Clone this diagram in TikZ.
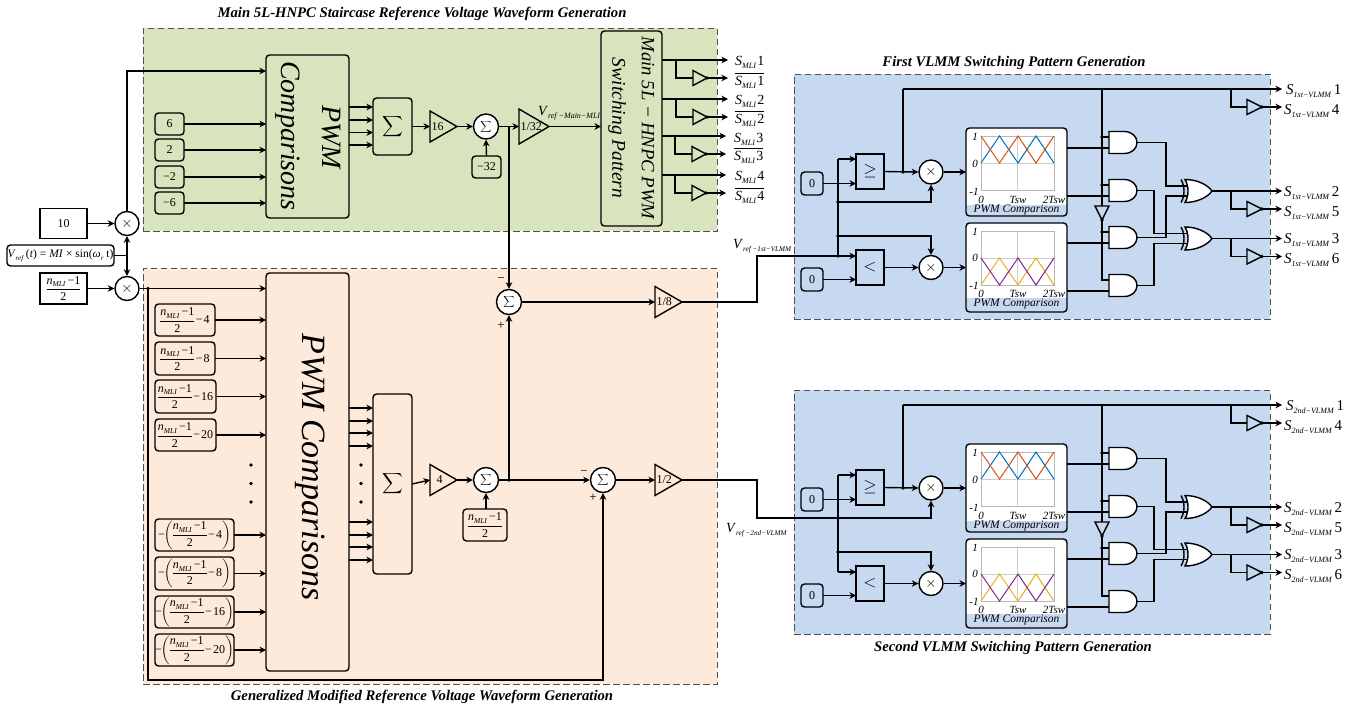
\documentclass[tikz,border=0pt]{standalone}
\usepackage{amsmath}
\usepackage{fontspec}
\setmainfont{Liberation Serif}
\usetikzlibrary{arrows.meta,calc}
\definecolor{greenbg}{HTML}{D7E4BD}
\definecolor{peachbg}{HTML}{FDEADA}
\definecolor{bluebg}{HTML}{C6D9F1}
\definecolor{dashc}{HTML}{505050}
\definecolor{wvblue}{RGB}{0,114,189}
\definecolor{wvorange}{RGB}{217,83,25}
\definecolor{wvyellow}{RGB}{237,177,32}
\definecolor{wvpurple}{RGB}{126,47,142}
\nulldelimiterspace=0pt
\newcommand\fs[1]{\fontsize{#1}{#1}\selectfont}
\newcommand\lsub[2][8.5]{\raisebox{-0.22em}{\fontsize{#1}{#1}\selectfont\textit{#2}}}
\newcommand\nfr{\ensuremath{\displaystyle\frac{\hbox{\textit{n}\lsub[7.5]{MLI}\,−1}}{\hbox{2}}}}
\newcommand\posn[1]{\nfr\kern1.5pt−\kern1pt#1}
\newcommand\negn[1]{−\kern-1pt\ensuremath{\displaystyle\left(\hbox{\nfr\kern1.5pt−\kern1pt#1}\right)}}
\newcommand\sigm{\ensuremath{\displaystyle\sum}}
\newcommand\Smli[1]{\textit{S}\lsub[8]{MLI}\kern1pt#1}
\newcommand\Sov[1]{\ensuremath{\overline{\hbox{\Smli{#1}}}}}
\newcommand\Svl[2]{\textit{S}\lsub[8]{#1−VLMM}\,#2}
% geometry helpers
\newcommand\bx[7]{%
  \pgfmathsetmacro\bxw{#5-#3}\pgfmathsetmacro\bxh{#6-#4}%
  \node[#2,minimum width=\bxw pt,minimum height=\bxh pt,inner sep=0pt,outer sep=0pt] (#1) at ({(#3+#5)/2},{(#4+#6)/2}) {#7};}
\newcommand\tri[6]{%
  \pgfmathsetmacro\bxw{#3-#2}%
  \node[inner sep=0pt,outer sep=0pt,minimum width=\bxw pt,minimum height=#5 pt,font=\fs{12}] (#1) at ({(#2+#3)/2},{#4}) {\makebox[\bxw pt][l]{\hspace{1.5pt}#6}};
  \draw[wire] (#1.north west) -- (#1.east) -- (#1.south west) -- cycle;}
\newcommand\outp[8]{%
  \coordinate (#1e) at (#6,#7);
  \draw[arr] (#2) -- (#1e);
  \coordinate (#1b) at (#3,#7);
  \tri{#1n}{#4}{#5}{#7+#8}{15}{}
  \draw[wire] (#1b) |- (#1n.west);
  \coordinate (#1f) at ({#6},{#7+#8});
  \draw[arr] (#1n.east) -- (#1f);
  \fill (#1n.east) circle (1.8pt);}
\newcommand\plotframe[3]{% top, mid, bottom
  \draw[line width=0.4pt,black!20] (1017.5,#1) -- (1017.5,#3) (981,#2) -- (1054,#2);
  \draw[line width=0.9pt,black!28] (981,#1) rectangle (1054,#3);}
\newcommand\trid[5]{%
  \pgfmathsetmacro\bxw{#3-#2}\pgfmathsetmacro\bxh{#5-#4}%
  \node[inner sep=0pt,outer sep=0pt,minimum width=\bxw pt,minimum height=\bxh pt] (#1) at ({(#2+#3)/2},{(#4+#5)/2}) {};
  \draw[wire] (#1.north west) -- (#1.south) -- (#1.north east) -- cycle;}
% AND gate: name, left x, centre y
\newcommand\andgate[3]{%
  \node[inner sep=0pt,outer sep=0pt,minimum width=28pt,minimum height=22pt] (#1) at ({#2+14},{#3}) {};
  \draw[wire,fill=white] ({#2},{#3-11}) -- ({#2+15},{#3-11}) .. controls ({#2+23},{#3-11}) and ({#2+28},{#3-6}) .. ({#2+28},{#3})
     .. controls ({#2+28},{#3+6}) and ({#2+23},{#3+11}) .. ({#2+15},{#3+11}) -- ({#2},{#3+11}) -- cycle;
  \coordinate (#1i1) at ({#2},{#3-5.5});
  \coordinate (#1i2) at ({#2},{#3+5.5});}
% XOR gate: name, left x, centre y
\newcommand\xorgate[3]{%
  \node[inner sep=0pt,outer sep=0pt,minimum width=31pt,minimum height=23pt] (#1) at ({#2+15.5},{#3}) {};
  \draw[wire,fill=white] ({#2+4},{#3-11.5}) .. controls ({#2+15},{#3-11.5}) and ({#2+26},{#3-7}) .. ({#2+31},{#3})
     .. controls ({#2+26},{#3+7}) and ({#2+15},{#3+11.5}) .. ({#2+4},{#3+11.5})
     .. controls ({#2+8},{#3+5}) and ({#2+8},{#3-5}) .. cycle;
  \draw[wire] ({#2},{#3-11.5}) .. controls ({#2+4},{#3-5}) and ({#2+4},{#3+5}) .. ({#2},{#3+11.5});
  \coordinate (#1i1) at ({#2+6.5},{#3-5});
  \coordinate (#1i2) at ({#2+6.5},{#3+5});}
\newcommand\vlmm[3]{%
\begin{scope}[shift={(0,#2)}]
  \bx{#1z1}{rbox}{801}{172}{823}{195}{0}
  \bx{#1z2}{rbox}{801}{268}{823}{291}{0}
  \bx{#1ge}{sbox,font=\fs{17}}{856}{154}{884}{189}{$\geq$}
  \bx{#1lt}{sbox,font=\fs{17}}{856}{250}{884}{285}{$<$}
  \node[mul] (#1m1) at (931,172) {$\times$};
  \node[mul] (#1m2) at (931,267.5) {$\times$};
  % PWM comparison 1
  \bx{#1p1}{rbox,draw=none,fill=white}{966}{128}{1067}{216}{}
  \fill[bluebg] (966,205) rectangle (1067,216);
  \plotframe{136}{163}{190}
  \draw[line width=1pt,wvblue] (981,163) -- (999.5,136) -- (1018,163) -- (1036,136) -- (1054,163);
  \draw[line width=1pt,wvorange] (981,136) -- (999.5,163) -- (1018,136) -- (1036,163) -- (1054,136);
  \draw[rline] (#1p1.south west) rectangle (#1p1.north east);
  \node[tickl] (#1a1t) at (975,137) {1};
  \node[tickl] (#1a0t) at (975,164) {0};
  \node[tickl] (#1amt) at (974,192) {-1};
  \node[tickl] (#1ax0) at (981,199.5) {0};
  \node[tickl] (#1ax1) at (1018,199.5) {Tsw};
  \node[tickl] (#1ax2) at (1054,199.5) {2Tsw};
  \node[capt] (#1c1) at (1016.5,209.5) {PWM Comparison};
  % PWM comparison 2
  \bx{#1p2}{rbox,draw=none,fill=white}{966}{223}{1067}{312}{}
  \fill[bluebg] (966,298) rectangle (1067,312);
  \plotframe{231}{258}{285}
  \draw[line width=1pt,wvyellow] (981,285) -- (999.5,258) -- (1018,285) -- (1036,258) -- (1054,285);
  \draw[line width=1pt,wvpurple] (981,258) -- (999.5,285) -- (1018,258) -- (1036,285) -- (1054,258);
  \draw[rline] (#1p2.south west) rectangle (#1p2.north east);
  \node[tickl] (#1b1t) at (975,232) {1};
  \node[tickl] (#1b0t) at (975,258) {0};
  \node[tickl] (#1bmt) at (974,286) {-1};
  \node[tickl] (#1bx0) at (981,294) {0};
  \node[tickl] (#1bx1) at (1018,294) {Tsw};
  \node[tickl] (#1bx2) at (1054,294) {2Tsw};
  \node[capt] (#1c2) at (1016.5,304) {PWM Comparison};
  % input network
  \coordinate (#1ja) at (838,159);
  \coordinate (#1jb) at (838,202);
  \coordinate (#1jc) at (838,236);
  \coordinate (#1in) at (838,256);
  \coordinate (#1jd) at (903,172);
  \coordinate (#1tp) at (903,89);
  \coordinate (#1v) at (1102,89);
  \draw[wire] (#1ja) -- (#1in);
  \draw[arr] (#1ja) -- (#1ja -| #1ge.west);
  \draw[arr] (#1in) -- (#1in -| #1lt.west);
  \draw[arr] (#1z1.east) -- (#1z1.east -| #1ge.west);
  \draw[arr] (#1z2.east) -- (#1z2.east -| #1lt.west);
  \draw[arr] (#1ge.east) -- (#1m1.west);
  \draw[arr] (#1lt.east) -- (#1m2.west);
  \draw[arr] (#1jb) -| (#1m1.south);
  \draw[arr] (#1jc) -| (#1m2.north);
  \draw[arr] (#1m1.east) -- (#1p1.west);
  \draw[arr] (#1m2.east) -- (#1p2.west);
  \draw[wire] (#1jd) -- (#1tp);
  \foreach \q in {#1jb,#1jc,#1jd} {\fill (\q) circle (1.8pt);}
  % logic
  \andgate{#1a1}{1109}{142.5}
  \andgate{#1a2}{1109}{190.5}
  \andgate{#1a3}{1109}{237.5}
  \andgate{#1a4}{1109}{285.5}
  \trid{#1iv}{1095}{1109}{206}{220}
  \draw[wire] (#1v) -- (#1iv.north);
  \draw[wire] (#1iv.south) |- (#1a4i1);
  \foreach \g in {a1,a2,a3} {
    \draw[wire] (#1\g i1 -| #1v) -- (#1\g i1);
    \fill (#1\g i1 -| #1v) circle (1.8pt);}
  \fill (#1iv.south) circle (1.8pt);
  \draw[wire] (#1p1.east |- #1a1i2) -- (#1a1i2);
  \draw[wire] (#1p1.east |- #1a2i2) -- (#1a2i2);
  \draw[wire] (#1p2.east |- #1a3i2) -- (#1a3i2);
  \draw[wire] (#1p2.east |- #1a4i2) -- (#1a4i2);
  \coordinate (#1k1) at (1166,165);
  \coordinate (#1k2) at (1166,216);
  \coordinate (#1k3) at (1154,212);
  \coordinate (#1k4) at (1154,265);
  \coordinate (#1xa) at (1187.5,186);
  \coordinate (#1xb) at (1187.5,196);
  \coordinate (#1xc) at (1187.5,233.5);
  \coordinate (#1xd) at (1187.5,243.5);
  \draw[wire] (#1a1.east) -| (#1k1) |- (#1xa);
  \draw[wire] (#1a3.east) -| (#1k2) |- (#1xb);
  \draw[wire] (#1a2.east) -| (#1k3) |- (#1xc);
  \draw[wire] (#1a4.east) -| (#1k4) |- (#1xd);
  \xorgate{#1x1}{1181}{191}
  \xorgate{#1x2}{1181}{238.5}
  % outputs
  \outp{#1oa}{#1tp}{1231}{1247}{1262}{1282}{89}{18}
  \outp{#1ob}{#1x1.east}{1231}{1247}{1262}{1282}{191}{18}
  \outp{#1oc}{#1x2.east}{1231}{1247}{1262}{1282}{238.5}{18}
  \node[slab] (#1l1) at (1286,94) {\Svl{#3}{1}};
  \node[slab] (#1l4) at (1284,114) {\Svl{#3}{4}};
  \node[slab] (#1l2) at (1284,196) {\Svl{#3}{2}};
  \node[slab] (#1l5) at (1284,216) {\Svl{#3}{5}};
  \node[slab] (#1l3) at (1284,243.5) {\Svl{#3}{3}};
  \node[slab] (#1l6) at (1284,263) {\Svl{#3}{6}};
\end{scope}}
\begin{document}
\begin{tikzpicture}[x=1pt,y=-1pt,
  every node/.style={font=\fs{12}},
  wire/.style={line width=1.4pt,line join=miter},
  arr/.style={wire,-{Stealth[length=6.5pt,width=6.5pt,inset=2pt]}},
  blk/.style={draw=dashc,line width=0.9pt,dash pattern=on 6.5pt off 3.5pt},
  rbox/.style={draw,line width=1.4pt,rounded corners=3.5pt},
  rline/.style={line width=1.4pt,rounded corners=3.5pt},
  sbox/.style={draw,line width=1.4pt},
  mul/.style={draw,circle,fill=white,line width=1.4pt,minimum size=24pt,inner sep=0pt,font=\fs{14}},
  sumc/.style={draw,circle,fill=white,line width=1.4pt,minimum size=25pt,inner sep=0pt,font=\fs{12}},
  tickl/.style={font=\fs{11}\itshape,inner sep=0pt},
  capt/.style={font=\fs{11.5}\itshape,inner sep=0pt},
  slab/.style={anchor=base west,inner sep=0pt,font=\fs{15}},
  mlab/.style={anchor=base west,inner sep=0pt,font=\fs{14}},
  vlab/.style={anchor=base west,inner sep=0pt,font=\fs{14}},
  ttl/.style={font=\fs{14.7}\bfseries\itshape,inner sep=0pt},
  sgn/.style={font=\fs{13},inner sep=0pt},
  rtxt/.style={rotate=-90,inner sep=0pt,font=\itshape},
]
\useasboundingbox (0,0) rectangle (1353,707);
% backgrounds
\bx{bgG}{blk,fill=greenbg}{143}{28}{717}{231}{}
\bx{bgP}{blk,fill=peachbg}{143}{268}{717}{684}{}
\bx{bgB1}{blk,fill=bluebg}{794}{74}{1270}{319}{}
\bx{bgB2}{blk,fill=bluebg}{794}{390}{1270}{634}{}
% titles
\node[ttl] (t1) at (422,14) {Main 5L-HNPC Staircase Reference Voltage Waveform Generation};
\node[ttl] (t2) at (1014,63) {First VLMM Switching Pattern Generation};
\node[ttl] (t3) at (1013,648) {Second VLMM Switching Pattern Generation};
\node[ttl] (t4) at (422,697) {Generalized Modified Reference Voltage Waveform Generation};
% left sources
\bx{ten}{sbox}{40}{208.5}{87}{238.5}{10}
\bx{vref}{rbox,font=\fs{11.5}}{7}{245}{114}{266}{\textit{V}\lsub[7]{ref}\,(\textit{t}) = \textit{MI} × sin(\textit{ω}\lsub[7]{r} t)}
\bx{nsrc}{sbox}{40}{273}{87}{304}{\nfr}
\node[mul] (m1) at (127,223.5) {$\times$};
\node[mul] (m2) at (127,288.5) {$\times$};
\coordinate (j0) at (127,255.5);
\draw[arr] (ten.east) -- (m1.west);
\draw[arr] (nsrc.east) -- (m2.west);
\draw[wire] (vref.east) -- (j0);
\draw[arr] (j0) -- (m1.south);
\draw[arr] (j0) -- (m2.north);
% main comparisons
\bx{mp}{rbox}{266}{55}{349}{218}{}
\node[rtxt,font=\fs{28}\itshape] (mpa) at (331,137) {PWM};
\node[rtxt,font=\fs{28}\itshape] (mpb) at (288,136) {Comparisons};
\coordinate (mtop) at (266,71);
\draw[arr] (m1.north) |- (mtop);
\bx{c1}{rbox}{155}{113}{184}{135}{6}
\bx{c2}{rbox}{155}{139}{184}{161}{2}
\bx{c3}{rbox}{155}{166}{184}{188}{−2}
\bx{c4}{rbox}{155}{192}{184}{214}{−6}
\foreach \q in {c1,c2,c3,c4} {\draw[arr] (\q.east) -- (\q.east -| mp.west);}
\bx{ms}{rbox}{373}{98}{412}{155}{\scalebox{1.2}{\sigm}}
\foreach \q in {107,120,132.5,145} {\draw[arr] (mp.east |- 0,\q) -- (ms.west |- 0,\q);}
\tri{g16}{430}{457}{126.5}{31}{16}
\draw[arr] (ms.east) -- (g16.west);
\node[sumc] (s0) at (486,126.5) {\scalebox{0.65}{\sigm}};
\draw[arr] (g16.east) -- (s0.west);
\bx{m32}{rbox}{472}{156}{501}{178}{−32}
\draw[arr] (m32.north) -- (s0.south);
\tri{g32}{519}{549}{126.5}{35}{1/32}
\draw[arr] (s0.east) -- (g32.west);
\bx{sw}{rbox}{601}{31}{662}{226}{}
\node[rtxt,font=\fs{18.7}\itshape] (swa) at (648,128) {Main 5L − HNPC PWM};
\node[rtxt,font=\fs{19.5}\itshape] (swb) at (617,128) {Switching Pattern};
\draw[arr] (g32.east) -- (g32.east -| sw.west);
\node[vlab] (vm) at (538,115) {\textit{V}\lsub[8]{ref −Main−MLI}};
\outp{o1}{sw.east |- o1e}{676}{693}{707}{728}{60}{18}
\outp{o2}{sw.east |- o2e}{676}{693}{707}{728}{99}{18}
\outp{o3}{sw.east |- o3e}{675}{692}{706}{726}{136}{18}
\outp{o4}{sw.east |- o4e}{675}{692}{706}{726}{175}{18}
\node[mlab] (l1) at (735,65) {\Smli{1}};
\node[mlab] (l1b) at (735,85) {\Sov{1}};
\node[mlab] (l2) at (735,104) {\Smli{2}};
\node[mlab] (l2b) at (735,123) {\Sov{2}};
\node[mlab] (l3) at (734,142) {\Smli{3}};
\node[mlab] (l3b) at (734,160) {\Sov{3}};
\node[mlab] (l4) at (735,180) {\Smli{4}};
\node[mlab] (l4b) at (735,200) {\Sov{4}};
% generalized comparisons
\bx{gp}{rbox}{266}{273}{349}{671}{}
\node[rtxt,font=\fs{34}\itshape] (gpt) at (310,467) {PWM Comparisons};
\draw[arr] (m2.east) -- (m2.east -| gp.west);
\bx{d1}{rbox}{155}{304}{215}{336}{\posn{4}}
\bx{d2}{rbox}{155}{342}{215}{375}{\posn{8}}
\bx{d3}{rbox}{155}{380}{216}{413}{\posn{16}}
\bx{d4}{rbox}{155}{419}{216}{451}{\posn{20}}
\bx{d5}{rbox}{155}{519}{234}{551}{\negn{4}}
\bx{d6}{rbox}{155}{557}{234}{590}{\negn{8}}
\bx{d7}{rbox}{155}{596}{234}{628}{\negn{16}}
\bx{d8}{rbox}{155}{634}{234}{666}{\negn{20}}
\foreach \q in {d1,d2,d3,d4,d5,d6,d7,d8} {\draw[arr] (\q.east) -- (\q.east -| gp.west);}
\foreach \q in {465,483.5,502} {\fill (251,\q) circle (1.8pt); \fill (361,\q) circle (1.8pt);}
\bx{gs}{rbox}{373}{394}{412}{574}{\scalebox{1.2}{\sigm}}
\foreach \q in {408,421,433,446,522,535,547,560} {\draw[arr] (gp.east |- 0,\q) -- (gs.west |- 0,\q);}
\tri{g4}{430}{457}{480}{31}{\hspace{5pt}4}
\draw[arr] (gs.east) -- (g4.west);
\node[sumc] (s2) at (486,480) {\scalebox{0.65}{\sigm}};
\draw[arr] (g4.east) -- (s2.west);
\bx{nb}{rbox}{463}{509}{507}{541}{\nfr}
\draw[arr] (nb.north -| s2.south) -- (s2.south);
\node[sumc] (s1) at (509,302) {\scalebox{0.65}{\sigm}};
\node[sumc] (s3) at (603,480) {\scalebox{0.65}{\sigm}};
\coordinate (j2) at (509,480);
\coordinate (j3) at (509,126.5);
\draw[arr] (s2.east) -- (s3.west);
\draw[arr] (j2) -- (s1.south);
\draw[arr] (j3) -- (s1.north);
\fill (j2) circle (1.8pt);
\node[sgn] (ma) at (501,280) {−};
\node[sgn] (pa) at (501,326) {+};
\node[sgn] (mb) at (584,473) {−};
\node[sgn] (pb) at (593,498) {+};
\coordinate (j1) at (148,288.5);
\coordinate (jb) at (148,680);
\draw[arr] (j1) -- (jb) -| (s3.south);
\fill (j1) circle (1.8pt);
\tri{g18}{655}{682}{302}{31}{1/8}
\tri{g12}{655}{682}{480}{31}{1/2}
\draw[arr] (s1.east) -- (g18.west);
\draw[arr] (s3.east) -- (g12.west);
% VLMM blocks
\vlmm{A}{0}{1st}
\vlmm{B}{316}{2nd}
\coordinate (bend1) at (757,256);
\coordinate (bend2) at (757,518);
\draw[wire] (g18.east) -| (bend1) -- (Ain);
\draw[wire] (g12.east) -| (bend2) -- (Bjb);
\fill (Ain) circle (1.8pt);
\node[vlab] (va) at (733,248) {\textit{V}\lsub[7.2]{ref −1st−VLMM}};
\node[vlab] (vb) at (726,532) {\textit{V}\lsub[7.2]{ref −2nd−VLMM}};
\end{tikzpicture}
\end{document}
